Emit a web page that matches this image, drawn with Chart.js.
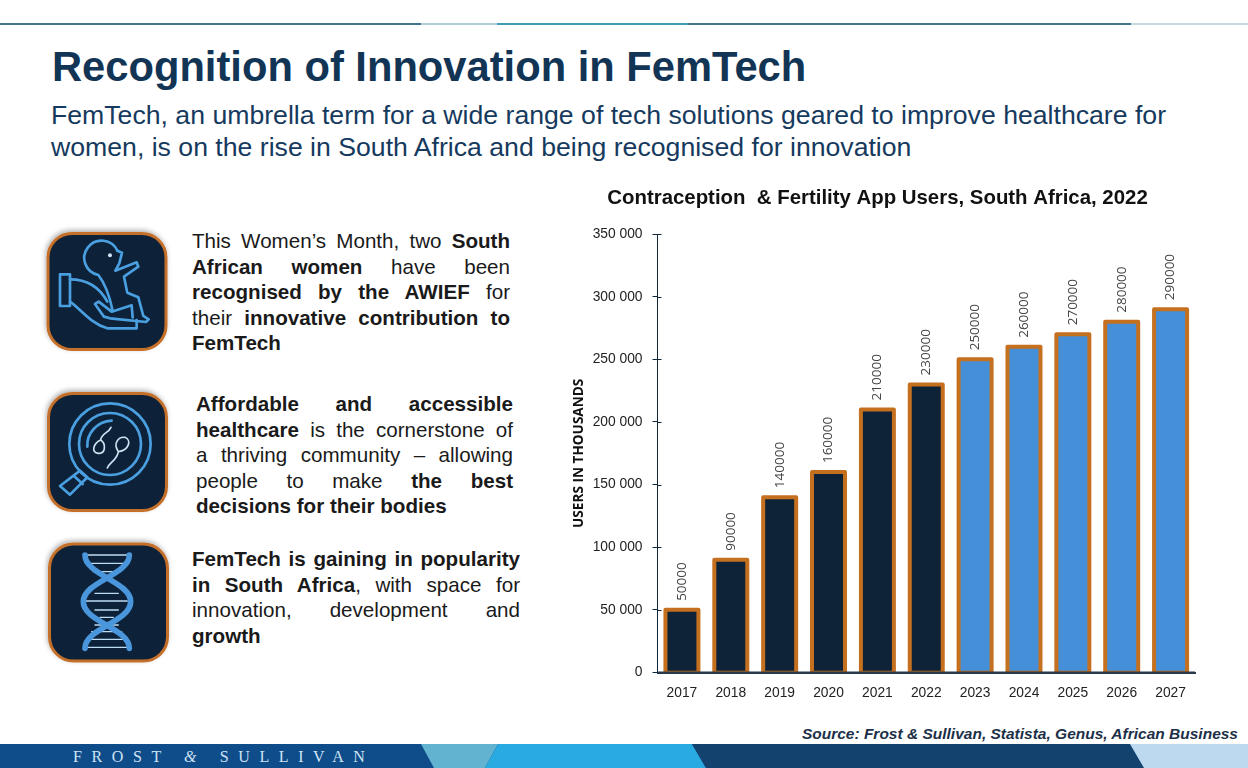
<!DOCTYPE html>
<html><head><meta charset="utf-8">
<script src="https://cdn.jsdelivr.net/npm/chart.js@4"></script>
<style>
html,body{margin:0;padding:0;background:#fff;width:1248px;height:768px;overflow:hidden;font-family:"Liberation Sans",Arial,sans-serif}
.abs{position:absolute;white-space:nowrap}
#title{left:52px;top:41px;font-size:41.7px;font-weight:bold;color:#123455;line-height:52px}
.sub{left:51px;font-size:26.65px;color:#163a5e;line-height:32px}
.blk{position:absolute;font-size:20.6px;line-height:25.5px;color:#1a1a1a}
.blk div{text-align:justify;text-align-last:justify;white-space:nowrap}
.blk div.last{text-align-last:left}
#src{right:10px;top:725px;font-size:15.5px;font-weight:bold;font-style:italic;color:#1c3048;line-height:17px}
#fs{left:73px;top:747px;font-family:"Liberation Serif",serif;font-size:16px;letter-spacing:9.6px;color:#cfe3f3;line-height:20px}
#cw{position:absolute;left:560px;top:180px;width:640px;height:530px}
svg{position:absolute;left:0;top:0}
</style></head><body>
<svg width="1248" height="768" viewBox="0 0 1248 768">
<defs><filter id="sh" x="-20%" y="-20%" width="140%" height="140%"><feDropShadow dx="-1" dy="-2" stdDeviation="2.5" flood-color="#000" flood-opacity=".3"/></filter></defs>
<rect x="0" y="23" width="421" height="2" fill="#41758f"/><rect x="421" y="23" width="76" height="2" fill="#b2cdd8"/>
<rect x="497" y="23" width="191" height="2" fill="#3f9db8"/><rect x="688" y="23" width="443" height="2" fill="#41758f"/>
<rect x="1131" y="23" width="117" height="2" fill="#c6d9df"/>
<rect x="0" y="744" width="1248" height="24" fill="#0f4c8a"/>
<polygon points="421,744 498,744 485,768 434,768" fill="#62b3cf"/>
<polygon points="498,744 692,744 706,768 485,768" fill="#29abe2"/>
<polygon points="692,744 1130,744 1144,768 706,768" fill="#14426e"/>
<polygon points="1130,744 1248,744 1248,768 1144,768" fill="#bcd9ef"/>
<g fill="#0f2338" stroke="#c5702a" stroke-width="3" filter="url(#sh)">
<rect x="48" y="233.500" width="118" height="116" rx="24"/>
<rect x="48.500" y="393.500" width="118" height="117" rx="24"/>
<rect x="49.500" y="544" width="118" height="117" rx="24"/>
</g>
<g transform="translate(30,220) scale(.3333)" fill="none" stroke="#4a9fe0" stroke-width="8" stroke-linejoin="round" stroke-linecap="round">
<path d="M262,92 L276,98 L268,130 L256,152 L320,127 L325,140 L282,170 L292,218 L325,232 L340,288 L356,298 L348,306 L240,295 L222,290 L195,252 L206,245 L245,275 L305,256 L308,292"/>
<path d="M262,92 A52,52 0 1 0 205,165 C225,190 238,225 248,272"/>
<rect x="90" y="163" width="30" height="95"/>
<path d="M120,178 C165,178 205,195 232,245"/>
<path d="M120,245 C150,265 180,310 232,325 L320,325 L320,300"/>
<circle cx="240" cy="106" r="6" fill="#cfe3f3" stroke="none"/>
<circle cx="240" cy="672" r="122"/><circle cx="240" cy="672" r="93"/>
<path d="M172,680 C170,640 200,605 245,602"/>
<path d="M150,752 L172,772 L120,824 L90,798 Z M132,768 L158,792"/>
<g stroke="#cfe3f3" stroke-width="5"><path d="M243,622 C235,640 215,640 212,660 C190,670 182,698 205,700 C228,702 228,670 212,660"/>
<path d="M232,744 C240,725 262,720 265,695 C248,670 265,650 285,652 C305,660 298,690 265,695"/></g>
</g>
<g transform="translate(0,530) scale(.3333)" fill="none" stroke="#4a96dc" stroke-linecap="round">
<g stroke="#bcdcf3" stroke-width="4"><path d="M262,75H385M262,100H380M280,125H360M300,150H340M285,190H355M258,213H382M285,240H355M300,262H340M285,285H355M275,305H365M262,328H380M258,352H385"/></g>
<g stroke-width="17"><path d="M255,75 C255,135 392,155 392,215 C392,275 255,295 255,355"/><path d="M388,75 C388,135 250,155 250,215 C250,275 388,295 388,355"/></g>
</g>
</svg>
<div class="abs" id="title">Recognition of Innovation in FemTech</div>
<div class="abs sub" style="top:99px">FemTech, an umbrella term for a wide range of tech solutions geared to improve healthcare for</div>
<div class="abs sub" style="top:131px">women, is on the rise in South Africa and being recognised for innovation</div>
<div class="blk" style="left:192px;top:228px;width:318px">
<div>This Women’s Month, two <b>South</b></div>
<div><b>African women</b> have been</div>
<div><b>recognised by the AWIEF</b> for</div>
<div>their <b>innovative contribution to</b></div>
<div class="last"><b>FemTech</b></div></div>
<div class="blk" style="left:196px;top:391px;width:317px">
<div><b>Affordable and accessible</b></div>
<div><b>healthcare</b> is the cornerstone of</div>
<div>a thriving community – allowing</div>
<div>people to make <b>the best</b></div>
<div class="last"><b>decisions for their bodies</b></div></div>
<div class="blk" style="left:192px;top:546px;width:328px">
<div><b>FemTech is gaining in popularity</b></div>
<div><b>in South Africa</b>, with space for</div>
<div>innovation, development and</div>
<div class="last"><b>growth</b></div></div>
<div id="cw"><canvas id="c" width="640" height="530" style="width:640px;height:530px"></canvas></div>
<div class="abs" id="src">Source: Frost &amp; Sullivan, Statista, Genus, African Business</div>
<div class="abs" id="fs">FROST <i>&amp;</i> SULLIVAN</div>
<script>
const years = ['2017','2018','2019','2020','2021','2022','2023','2024','2025','2026','2027'];
const users = [50000,90000,140000,160000,210000,230000,250000,260000,270000,280000,290000];
const actualColor = '#0f2338', forecastColor = '#448fd8', barEdge = '#c5701f';
const firstForecast = '2023';
const chartTitle = 'Contraception  & Fertility App Users, South Africa, 2022';
const yTitle = 'USERS IN THOUSANDS';

const extras = {
  id: 'extras',
  afterDatasetsDraw(chart) {
    const {ctx, scales:{y}, chartArea:a} = chart;
    ctx.save();
    const base = y.getPixelForValue(0);
    chart.getDatasetMeta(0).data.forEach(b => {
      const l = b.x - b.width / 2, r = b.x + b.width / 2;
      ctx.strokeStyle = barEdge; ctx.lineWidth = 4; ctx.lineJoin = 'round';
      ctx.beginPath(); ctx.moveTo(l, base); ctx.lineTo(l, b.y); ctx.lineTo(r, b.y); ctx.lineTo(r, base); ctx.stroke();
      ctx.lineWidth = 1.5; ctx.beginPath(); ctx.moveTo(l, base - 1); ctx.lineTo(r, base - 1); ctx.stroke();
    });
    ctx.strokeStyle = '#12263a'; ctx.lineWidth = 1;
    y.ticks.forEach(t => { const p = Math.round(y.getPixelForValue(t.value)) + .5;
      ctx.beginPath(); ctx.moveTo(a.left, p); ctx.lineTo(a.left + 4, p); ctx.stroke(); });
    ctx.strokeStyle = '#2a3a4c'; ctx.lineWidth = 2;
    ctx.beginPath(); ctx.moveTo(a.left, base); ctx.lineTo(a.right, base); ctx.stroke();
    ctx.font = '13.5px "Open Sans"'; ctx.fillStyle = '#444';
    ctx.textAlign = 'left'; ctx.textBaseline = 'middle';
    chart.getDatasetMeta(0).data.forEach((b, i) => {
      ctx.save(); ctx.translate(b.x, b.y - 9); ctx.rotate(-Math.PI / 2);
      ctx.fillText(String(users[i]), 0, 0); ctx.restore();
    });
    ctx.restore();
  }
};
new Chart(document.getElementById('c'), {
  type: 'bar',
  data: { labels: years, datasets: [{
    data: users,
    backgroundColor: years.map(v => v >= firstForecast ? forecastColor : actualColor),
    borderWidth: 0,
    categoryPercentage: 1, barPercentage: .675 }] },
  options: {
    responsive: false, animation: false,
    layout: { padding: { left: 0, right: 5, top: 0, bottom: 0 } },
    plugins: {
      legend: { display: false }, tooltip: { enabled: false },
      title: { display: true, text: chartTitle, color: '#111', padding: { top: 6, bottom: 23.6 },
        font: { family: '"Liberation Sans"', size: 20.4, weight: 'bold' } }
    },
    scales: {
      x: {
        afterFit(s) { s.height = 37.5; },
        grid: { display: false },
        border: { color: '#2a3a4c', width: 2 },
        ticks: { color: '#222', padding: 4, font: { family: '"Liberation Sans"', size: 13.8 }, maxRotation: 0 }
      },
      y: {
        min: 0, max: 350000,
        afterFit(s) { s.width = 97.5; },
        grid: { drawOnChartArea: false, color: '#12263a', tickLength: 5 },
        border: { color: '#12263a', width: 1 },
        ticks: { stepSize: 50000, color: '#222', padding: 10,
          font: { family: '"Liberation Sans"', size: 13.8 },
          callback: v => String(v).replace(/\B(?=(\d{3})+$)/g, ' ') },
        title: { display: true, text: yTitle, color: '#111', padding: { top: 11, bottom: 0 },
          font: { family: '"Open Sans"', size: 13.6, weight: 'bold' } }
      }
    }
  },
  plugins: [extras]
});
</script>
</body></html>
